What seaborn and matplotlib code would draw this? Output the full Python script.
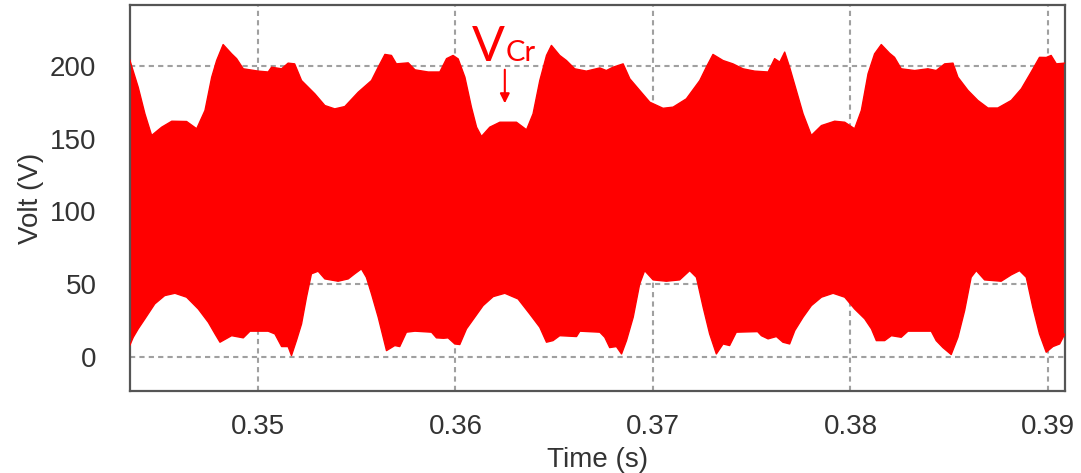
import numpy as np
import matplotlib
matplotlib.use("Agg")
import matplotlib.pyplot as plt
import seaborn as sns

# envelope of the capacitor voltage
upper_t = [0.34351, 0.34394, 0.34428, 0.34462, 0.34513, 0.34564, 0.34639, 0.34690, 0.34732, 0.34766,
           0.34791, 0.34824, 0.34867, 0.34892, 0.34926, 0.35002, 0.35052, 0.35069, 0.35120, 0.35153,
           0.35186, 0.35221, 0.35288, 0.35339, 0.35389, 0.35440, 0.35508, 0.35575, 0.35609, 0.35643,
           0.35676, 0.35701, 0.35761, 0.35795, 0.35862, 0.35921, 0.35955, 0.35988, 0.36014, 0.36048,
           0.36081, 0.36107, 0.36132, 0.36174, 0.36225, 0.36309, 0.36360, 0.36393, 0.36427, 0.36461,
           0.36486, 0.36528, 0.36562, 0.36604, 0.36663, 0.36731, 0.36764, 0.36798, 0.36849, 0.36883,
           0.36933, 0.36984, 0.37051, 0.37102, 0.37169, 0.37237, 0.37270, 0.37304, 0.37355, 0.37405,
           0.37456, 0.37515, 0.37583, 0.37616, 0.37642, 0.37667, 0.37692, 0.37726, 0.37760, 0.37802,
           0.37853, 0.37920, 0.37971, 0.38021, 0.38055, 0.38089, 0.38122, 0.38156, 0.38198, 0.38223,
           0.38257, 0.38325, 0.38392, 0.38434, 0.38477, 0.38519, 0.38544, 0.38595, 0.38645, 0.38696,
           0.38746, 0.38814, 0.38865, 0.38915, 0.38957, 0.38991, 0.39016, 0.39042, 0.39085]
upper_v = [204.4, 185.5, 167.2, 152.3, 158.0, 162.1, 161.9, 156.9, 169.5, 192.4,
           203.9, 214.9, 208.5, 205.2, 198.2, 196.6, 196.0, 199.3, 198.2, 202.1,
           201.6, 190.1, 181.0, 172.9, 170.6, 172.2, 182.1, 190.1, 199.3, 208.1,
           207.4, 201.6, 202.3, 197.5, 196.0, 196.0, 205.2, 207.4, 205.0, 192.4,
           171.8, 158.0, 151.6, 158.0, 161.4, 161.4, 156.2, 167.2, 190.1, 207.4,
           214.3, 207.4, 203.9, 198.2, 196.6, 198.8, 197.0, 199.3, 201.6, 191.3,
           183.3, 175.2, 171.0, 171.8, 177.5, 190.1, 199.3, 208.1, 203.9, 201.6,
           198.2, 196.6, 196.0, 205.2, 202.8, 209.7, 199.3, 183.3, 167.2, 152.3,
           159.1, 162.1, 161.4, 156.9, 169.5, 194.8, 208.5, 214.9, 208.9, 206.1,
           198.2, 197.0, 198.2, 197.0, 201.6, 202.1, 192.4, 183.3, 176.4, 171.2,
           171.2, 176.4, 184.4, 196.0, 206.1, 206.0, 207.4, 201.6, 202.1]

lower_t = [0.34351, 0.34369, 0.34394, 0.34428, 0.34478, 0.34528, 0.34580, 0.34639, 0.34698, 0.34749,
           0.34783, 0.34808, 0.34867, 0.34926, 0.34960, 0.35052, 0.35086, 0.35120, 0.35153, 0.35170,
           0.35195, 0.35221, 0.35246, 0.35271, 0.35305, 0.35339, 0.35406, 0.35457, 0.35490, 0.35524,
           0.35549, 0.35575, 0.35609, 0.35651, 0.35693, 0.35718, 0.35752, 0.35795, 0.35879, 0.35904,
           0.35940, 0.35963, 0.35997, 0.36022, 0.36056, 0.36098, 0.36140, 0.36191, 0.36250, 0.36317,
           0.36376, 0.36427, 0.36461, 0.36494, 0.36528, 0.36613, 0.36630, 0.36731, 0.36756, 0.36781,
           0.36815, 0.36841, 0.36866, 0.36900, 0.36933, 0.36958, 0.37001, 0.37068, 0.37135, 0.37186,
           0.37220, 0.37254, 0.37287, 0.37321, 0.37355, 0.37388, 0.37422, 0.37530, 0.37549, 0.37583,
           0.37625, 0.37658, 0.37692, 0.37718, 0.37760, 0.37802, 0.37853, 0.37912, 0.37971, 0.38021,
           0.38072, 0.38106, 0.38131, 0.38173, 0.38207, 0.38257, 0.38291, 0.38409, 0.38434, 0.38468,
           0.38510, 0.38544, 0.38578, 0.38611, 0.38637, 0.38679, 0.38763, 0.38814, 0.38856, 0.38890,
           0.38923, 0.38957, 0.38991, 0.39025, 0.39059, 0.39085]
lower_v = [7.6, 13.3, 19.1, 26.0, 36.3, 42.0, 43.6, 40.9, 32.8, 23.6,
           15.6, 9.9, 14.4, 12.9, 17.5, 17.5, 15.6, 6.9, 6.9, 0.7,
           11.0, 22.5, 40.9, 57.0, 58.8, 53.5, 51.9, 53.5, 57.0, 60.4,
           54.6, 43.2, 27.1, 4.1, 7.6, 6.9, 16.8, 17.5, 16.8, 12.9,
           12.6, 12.9, 8.7, 8.3, 19.1, 27.1, 35.1, 41.3, 43.6, 39.7,
           29.4, 20.2, 9.9, 11.0, 14.4, 13.8, 17.5, 16.8, 13.3, 6.2,
           6.9, 1.8, 11.0, 27.1, 50.1, 59.2, 52.8, 51.9, 52.8, 59.2,
           54.6, 34.0, 15.6, 1.8, 8.7, 7.6, 16.8, 17.2, 14.4, 12.2,
           13.8, 9.9, 8.7, 17.9, 27.1, 35.1, 40.9, 43.6, 40.9, 32.8,
           26.0, 19.1, 11.0, 11.0, 14.4, 13.3, 17.5, 17.5, 11.0, 6.2,
           1.4, 13.3, 31.7, 54.6, 59.2, 52.8, 51.9, 56.3, 59.2, 54.6,
           34.0, 15.6, 3.0, 6.9, 8.7, 15.6]

x_ticks = [0.35, 0.36, 0.37, 0.38, 0.39]
y_ticks = [0, 50, 100, 150, 200]

sns.set_style("white")
plt.rcParams["font.family"] = ["Liberation Sans", "DejaVu Sans"]

fig = plt.figure(figsize=(10.81, 4.73), dpi=100)
ax = fig.add_axes([0.12, 0.174, 0.865, 0.815])

ax.set_axisbelow(True)
ax.grid(True, color="#a0a0a0", linestyle=(0, (2.5, 2)), linewidth=1.5)

poly_t = np.concatenate([upper_t, lower_t[::-1]])
poly_v = np.concatenate([upper_v, lower_v[::-1]])
ax.fill(poly_t, poly_v, color="#ff0000", lw=0, zorder=2)
sns.lineplot(x=upper_t, y=upper_v, color="#ff0000", lw=1, ax=ax, zorder=3)
sns.lineplot(x=lower_t, y=lower_v, color="#ff0000", lw=1, ax=ax, zorder=3)

ax.set_xlim(0.34351, 0.39085)
ax.set_ylim(-23.5, 242)
ax.set_xticks(x_ticks)
ax.set_xticklabels(["0.35", "0.36", "0.37", "0.38", "0.39"])
ax.set_yticks(y_ticks)
ax.tick_params(axis="both", length=0, labelsize=20, colors="#333333")
ax.tick_params(axis="y", pad=24)
ax.tick_params(axis="x", pad=17)
ax.set_xlabel("Time (s)", fontsize=20, color="#333333", labelpad=5)
ax.set_ylabel("Volt (V)", fontsize=20, color="#333333", labelpad=4)
for s in ax.spines.values():
    s.set_color("#555555")
    s.set_linewidth(1.6)

# V_Cr label with arrow
ax.text(0.36085, 203.9, "V", fontsize=35, color="#ff0000", family=["Lato", "DejaVu Sans"], va="baseline")
ax.text(0.36255, 203.9, "Cr", fontsize=21, color="#ff0000", family=["Lato", "DejaVu Sans"], va="baseline")
ax.annotate("", xy=(0.3625, 172.5), xytext=(0.3625, 199.5),
            arrowprops=dict(arrowstyle="-|>", color="#ff0000", lw=1.5, mutation_scale=14))

fig.savefig("out.png", dpi=100)
